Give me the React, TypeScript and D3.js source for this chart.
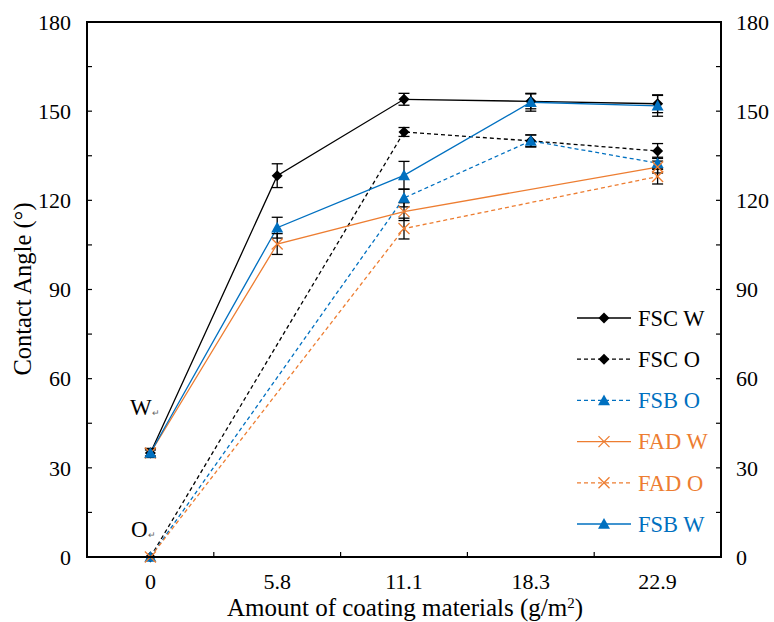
import React from "react";
import * as d3 from "d3";

const categories = ["0", "5.8", "11.1", "18.3", "22.9"];
const yTicks = [0, 30, 60, 90, 120, 150, 180];

type Pt = { c: string; v: number; e: number };
type Series = { name: string; color: string; dashed: boolean; marker: "diamond" | "triangle" | "x"; pts: Pt[] };

const fscW: Pt[] = [
  { c: "0", v: 35, e: 1.5 }, { c: "5.8", v: 128.3, e: 4 }, { c: "11.1", v: 154, e: 2 },
  { c: "18.3", v: 153.3, e: 2.5 }, { c: "22.9", v: 152.5, e: 3 },
];
const fscO: Pt[] = [
  { c: "0", v: 0, e: 0 }, { c: "11.1", v: 143, e: 1.5 }, { c: "18.3", v: 140, e: 2 }, { c: "22.9", v: 136.6, e: 2.5 },
];
const fsbO: Pt[] = [
  { c: "0", v: 0, e: 0 }, { c: "11.1", v: 120.8, e: 3 }, { c: "18.3", v: 140, e: 2 }, { c: "22.9", v: 132.5, e: 2 },
];
const fadW: Pt[] = [
  { c: "0", v: 35, e: 1 }, { c: "5.8", v: 105.3, e: 3.5 }, { c: "11.1", v: 116.2, e: 3 }, { c: "22.9", v: 131.2, e: 2 },
];
const fadO: Pt[] = [
  { c: "0", v: 0, e: 0 }, { c: "11.1", v: 110.5, e: 3.5 }, { c: "22.9", v: 128, e: 2.5 },
];
const fsbW: Pt[] = [
  { c: "0", v: 35, e: 1.5 }, { c: "5.8", v: 110.8, e: 3.5 }, { c: "11.1", v: 128.4, e: 4.7 },
  { c: "18.3", v: 153, e: 3 }, { c: "22.9", v: 151.8, e: 3.5 },
];

const BLUE = "#0070C0";
const ORANGE = "#ED7D31";

const series: Series[] = [
  { name: "FSC W", color: "#000", dashed: false, marker: "diamond", pts: fscW },
  { name: "FSC O", color: "#000", dashed: true, marker: "diamond", pts: fscO },
  { name: "FSB O", color: BLUE, dashed: true, marker: "triangle", pts: fsbO },
  { name: "FAD W", color: ORANGE, dashed: false, marker: "x", pts: fadW },
  { name: "FAD O", color: ORANGE, dashed: true, marker: "x", pts: fadO },
  { name: "FSB W", color: BLUE, dashed: false, marker: "triangle", pts: fsbW },
];

const W = 774, H = 622;
const L = 87, R = 721, T = 22, B = 557;
const FONT = "Liberation Serif";

function Marker({ kind, x, y, color }: { kind: string; x: number; y: number; color: string }) {
  if (kind === "diamond") {
    const s = 5.5;
    return <path d={`M${x},${y - s}L${x + s},${y}L${x},${y + s}L${x - s},${y}Z`} fill={color} />;
  }
  if (kind === "triangle") {
    const s = 6;
    return <path d={`M${x},${y - s}L${x + s},${y + s * 0.8}L${x - s},${y + s * 0.8}Z`} fill={color} />;
  }
  const s = 5.5;
  return <path d={`M${x - s},${y - s}L${x + s},${y + s}M${x - s},${y + s}L${x + s},${y - s}`} stroke={color} strokeWidth={1.3} fill="none" />;
}

export default function App() {
  const x = d3.scaleBand<string>().domain(categories).range([L, R]);
  const cx = (c: string) => (x(c) as number) + x.bandwidth() / 2;
  const y = d3.scaleLinear().domain([0, 180]).range([B, T]);
  const minor = d3.range(15, 180, 30);
  const line = d3.line<Pt>().x((d) => cx(d.c)).y((d) => y(d.v));
  const boundaries = categories.slice(1).map((c) => x(c) as number);

  const legendY0 = 318, legendDy = 41.2;

  return (
    <svg width={W} height={H} style={{ position: "absolute", left: 0, top: 0, background: "#fff" }} fontFamily={FONT}>
      <rect width={W} height={H} fill="#fff" />
      {/* ticks */}
      {yTicks.concat(minor).map((t) => (
        <g key={"t" + t}>
          <line x1={L} x2={L + 5} y1={y(t)} y2={y(t)} stroke="#000" strokeWidth={1.2} />
          <line x1={R} x2={R - 5} y1={y(t)} y2={y(t)} stroke="#000" strokeWidth={1.2} />
        </g>
      ))}
      {boundaries.map((b) => (
        <line key={"xb" + b} x1={b} x2={b} y1={B} y2={B - 5} stroke="#000" strokeWidth={1.2} />
      ))}
      {yTicks.map((t) => (
        <g key={"l" + t} fontSize={22}>
          <text x={L - 16} y={y(t)} dy="0.35em" textAnchor="end">{t}</text>
          <text x={R + 15} y={y(t)} dy="0.35em" textAnchor="start">{t}</text>
        </g>
      ))}
      {categories.map((c) => (
        <text key={"c" + c} x={cx(c)} y={589} fontSize={22} textAnchor="middle">{c}</text>
      ))}
      {/* series lines */}
      {series.map((s) => (
        <path key={"p" + s.name} d={line(s.pts) || ""} fill="none" stroke={s.color} strokeWidth={1.3}
          strokeDasharray={s.dashed ? "4,3" : undefined} />
      ))}
      {/* error bars */}
      {series.map((s) => s.pts.filter((p) => p.e > 0).map((p, i) => (
        <g key={"e" + s.name + i} stroke="#000" strokeWidth={1.3}>
          <line x1={cx(p.c)} x2={cx(p.c)} y1={y(p.v - p.e)} y2={y(p.v + p.e)} />
          <line x1={cx(p.c) - 5.5} x2={cx(p.c) + 5.5} y1={y(p.v - p.e)} y2={y(p.v - p.e)} />
          <line x1={cx(p.c) - 5.5} x2={cx(p.c) + 5.5} y1={y(p.v + p.e)} y2={y(p.v + p.e)} />
        </g>
      )))}
      {/* markers */}
      {series.map((s) => s.pts.map((p, i) => (
        <Marker key={"m" + s.name + i} kind={s.marker} x={cx(p.c)} y={y(p.v)} color={s.color} />
      )))}
      {/* frame */}
      <rect x={L} y={T} width={R - L} height={B - T} fill="none" stroke="#000" strokeWidth={2} />
      {/* W / O labels */}
      <text x={130} y={415} fontSize={23}>W<tspan fontSize={9} fill="#666" dy={1}>↵</tspan></text>
      <text x={131} y={537} fontSize={23}>O<tspan fontSize={9} fill="#666" dy={1}>↵</tspan></text>
      {/* legend */}
      {series.map((s, i) => {
        const ly = legendY0 + i * legendDy;
        return (
          <g key={"lg" + s.name}>
            <line x1={577} x2={631} y1={ly} y2={ly} stroke={s.color} strokeWidth={1.3}
              strokeDasharray={s.dashed ? "4,3" : undefined} />
            <Marker kind={s.marker} x={604} y={ly} color={s.color} />
            <text x={638} y={ly} dy="0.35em" fontSize={22.5} fill={s.color}>{s.name}</text>
          </g>
        );
      })}
      {/* axis titles */}
      <text transform={`translate(31,289) rotate(-90)`} textAnchor="middle" fontSize={24.5}>Contact Angle (°)</text>
      <text x={405} y={616} textAnchor="middle" fontSize={25}>
        Amount of coating materials (g/m<tspan baselineShift="super" fontSize={15}>2</tspan>)
      </text>
    </svg>
  );
}
